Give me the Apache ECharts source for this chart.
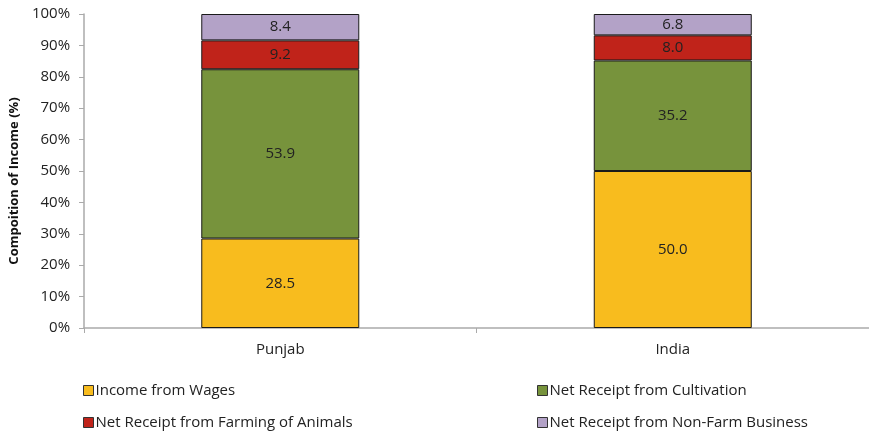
<!DOCTYPE html>
<html><head><meta charset="utf-8">
<script src="https://cdn.jsdelivr.net/npm/echarts@6/dist/echarts.min.js"></script>
<style>html,body{margin:0;padding:0;background:#fff}#c{width:869px;height:431px}</style>
</head><body><div id="c"></div>
<script>
var categories = ['Punjab', 'India'];
var seriesNames = ['Income from Wages', 'Net Receipt from Cultivation', 'Net Receipt from Farming of Animals', 'Net Receipt from Non-Farm Business'];
var wages = [28.5, 50.0];
var cultivation = [53.9, 35.2];
var animals = [9.2, 8.0];
var nonFarm = [8.4, 6.8];
var colors = ['#F8BC1E', '#77933C', '#C0231A', '#B3A2C7'];
var yTicks = [0, 10, 20, 30, 40, 50, 60, 70, 80, 90, 100];

var FONT = '"Open Sans", "Noto Sans", sans-serif';
var chart = echarts.init(document.getElementById('c'), null, {renderer: 'canvas'});
var datasets = [wages, cultivation, animals, nonFarm];
var series = datasets.map(function (d, i) {
  return {
    name: seriesNames[i], type: 'bar', stack: 'all', barWidth: 158,
    data: d,
    itemStyle: {color: colors[i], borderColor: '#1a1a1a', borderWidth: 1},
    label: {show: true, position: 'inside', color: '#222', fontSize: 15, fontFamily: FONT,
      formatter: function (p) { return p.value.toFixed(1); }}
  };
});
var legendPos = [[78, 378], [532, 378], [78, 410], [532, 410]];
var legends = seriesNames.map(function (n, i) {
  return {data: [n], left: legendPos[i][0], top: legendPos[i][1], itemGap: 0,
    itemWidth: 10, itemHeight: 10, icon: 'rect',
    itemStyle: {borderColor: '#333', borderWidth: 1},
    textStyle: {color: '#222', fontSize: 15, fontFamily: FONT, padding: [0, 0, 0, -3]}};
});
chart.setOption({
  animation: false,
  textStyle: {fontFamily: FONT},
  grid: {left: 78, right: -20, top: 14, bottom: 103, containLabel: false},
  xAxis: {
    type: 'category', data: categories,
    axisLine: {lineStyle: {color: '#aaa', width: 1.5}},
    axisTick: {show: true, alignWithLabel: false, length: 5, lineStyle: {color: '#aaa'}},
    axisLabel: {color: '#222', fontSize: 15, fontFamily: FONT, margin: 14}
  },
  yAxis: {
    type: 'value', min: yTicks[0], max: yTicks[yTicks.length - 1], interval: 10,
    name: 'Compoition of Income (%)', nameLocation: 'middle', nameGap: 63,
    nameTextStyle: {color: '#111', fontSize: 13, fontWeight: 'bold', fontFamily: FONT, padding: [0, 20, 0, 0]},
    axisLine: {show: true, lineStyle: {color: '#aaa', width: 1.5}},
    axisTick: {show: true, length: 5, lineStyle: {color: '#aaa'}},
    splitLine: {show: false},
    axisLabel: {color: '#222', fontSize: 15, fontFamily: FONT, margin: 14, formatter: '{value}%'}
  },
  legend: legends,
  series: series
});
</script></body></html>
